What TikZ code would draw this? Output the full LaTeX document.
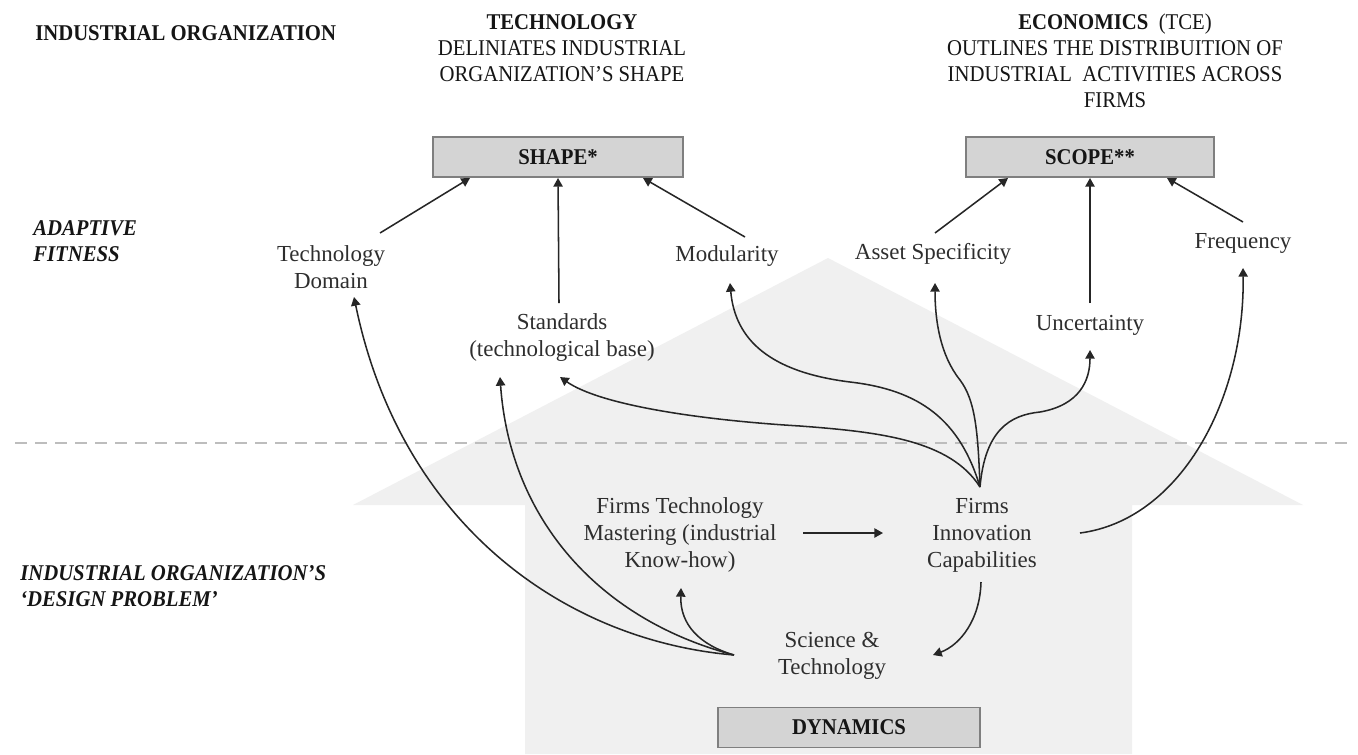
\documentclass[tikz,border=0pt]{standalone}
\usepackage{fontspec}
\setmainfont{Liberation Serif}
\newfontfamily\headfont[FakeStretch=0.92]{Liberation Serif}
\usetikzlibrary{arrows.meta,calc}
\definecolor{housegray}{HTML}{F0F0F0}
\definecolor{boxgray}{HTML}{D4D4D4}
\definecolor{boxline}{HTML}{7F7F7F}
\definecolor{dashgray}{HTML}{BDBDBD}
\definecolor{txtgray}{HTML}{2E2E2E}
\definecolor{hdblack}{HTML}{151515}
\definecolor{arrcol}{HTML}{262626}
\newcommand{\txtsize}{\fontsize{17.2pt}{20.25pt}\selectfont}
\newcommand{\hdsize}{\fontsize{16.9pt}{19.5pt}\selectfont}
\tikzset{
  txt/.style={font=\txtsize, text=txtgray, align=center, inner sep=0pt},
  hd/.style={font=\headfont\hdsize, text=hdblack, align=center, inner sep=0pt},
  side/.style={font=\headfont\hdsize\bfseries\itshape, text=hdblack, align=left, anchor=west, inner sep=0pt},
  tag/.style={draw=boxline, fill=boxgray, line width=1.1pt, font=\headfont\hdsize\bfseries, text=hdblack, minimum height=30pt, inner sep=0pt},
  arr/.style={draw=arrcol, line width=1.15pt, -{Triangle[length=6.5pt,width=7pt]}},
  dashline/.style={draw=dashgray, line width=2.2pt, dash pattern=on 9pt off 6pt},
}
\begin{document}
\begin{tikzpicture}[x=0.75pt,y=0.75pt,yscale=-1,xscale=1]
  \useasboundingbox[fill=white] (0,0) rectangle (1358,754);
  \fill[housegray] (353,505) -- (828,258) -- (1303,505) -- (1132,505) -- (1132,754) -- (525,754) -- (525,505) -- cycle;
  \draw[dashline] (15,443) -- (1352,443);

  \node[hd, anchor=west, font=\headfont\hdsize\bfseries] (io) at (35,33) {INDUSTRIAL ORGANIZATION};
  \node[hd] (tech) at (562,48) {\textbf{TECHNOLOGY}\\DELINIATES INDUSTRIAL\\ORGANIZATION’S SHAPE};
  \node[hd] (econ) at (1115,61) {\textbf{ECONOMICS}\ \ (TCE)\\OUTLINES THE DISTRIBUITION OF\\INDUSTRIAL\ \ ACTIVITIES ACROSS\\FIRMS};
  \node[tag, minimum width=187.5pt] (shape) at (558,157) {SHAPE*};
  \node[tag, minimum width=186pt] (scope) at (1090,157) {SCOPE**};
  \node[side] (fit) at (33,241) {ADAPTIVE\\FITNESS};
  \node[side] (design) at (20,586) {INDUSTRIAL ORGANIZATION’S\\‘DESIGN PROBLEM’};

  \node[txt] (td) at (331,267) {Technology\\Domain};
  \node[txt] (std) at (562,338) {Standards\\(technological base)};
  \node[txt] (mod) at (727,256) {Modularity};
  \node[txt] (as) at (933,254) {Asset Specificity};
  \node[txt] (unc) at (1090,325) {Uncertainty};
  \node[txt] (freq) at (1243,243) {Frequency};
  \node[txt] (ftm) at (680,535) {Firms Technology\\Mastering (industrial\\Know-how)};
  \node[txt] (fic) at (982,535) {Firms\\Innovation\\Capabilities};
  \node[txt] (st) at (832,656) {Science \&\\Technology};
  \node[tag, minimum width=196.5pt] (dyn) at (849,727.5) {DYNAMICS};

  \draw[arr] ($(td)+(49,-34)$) -- ($(shape)+(-88,21)$);
  \draw[arr] ($(std)+(-3,-35)$) -- ($(shape)+(0,21)$);
  \draw[arr] ($(mod)+(18,-19)$) -- ($(shape)+(85,21)$);
  \draw[arr] ($(as)+(2,-21)$) -- ($(scope)+(-82,21)$);
  \draw[arr] ($(unc)+(0,-22)$) -- ($(scope)+(0,21)$);
  \draw[arr] ($(freq)+(0,-21)$) -- ($(scope)+(77,21)$);

  \draw[arr] ($(fic)+(-2,-48)$) .. controls (960,420) and (920,390) .. (850,382) .. controls (770,372) and (735,340) .. ($(mod)+(3,27)$);
  \draw[arr] ($(fic)+(-2,-48)$) .. controls (978,430) and (975,400) .. (960,380) .. controls (940,355) and (935,320) .. ($(as)+(2,29)$);
  \draw[arr] ($(fic)+(-2,-48)$) .. controls (985,430) and (1010,415) .. (1040,412) .. controls (1080,405) and (1090,380) .. ($(unc)+(0,25)$);
  \draw[arr] ($(fic)+(-2,-48)$) .. controls (950,440) and (880,432) .. (800,426) .. controls (700,420) and (600,405) .. ($(std)+(-2,39)$);
  \draw[arr] ($(fic)+(98,-2)$) .. controls (1180,520) and (1245,400) .. ($(freq)+(0,25)$);
  \draw[arr] ($(fic)+(-1,47)$) .. controls (980,620) and (960,645) .. ($(st)+(101,-1)$);
  \draw[arr] ($(ftm)+(123,-2)$) -- ($(fic)+(-99,-2)$);

  \draw[arr] ($(st)+(-98,-1)$) .. controls (560,640) and (400,520) .. ($(td)+(23,30)$);
  \draw[arr] ($(st)+(-98,-1)$) .. controls (600,620) and (510,520) .. ($(std)+(-62,39)$);
  \draw[arr] ($(st)+(-98,-1)$) .. controls (700,645) and (680,625) .. ($(ftm)+(1,53)$);
\end{tikzpicture}
\end{document}
